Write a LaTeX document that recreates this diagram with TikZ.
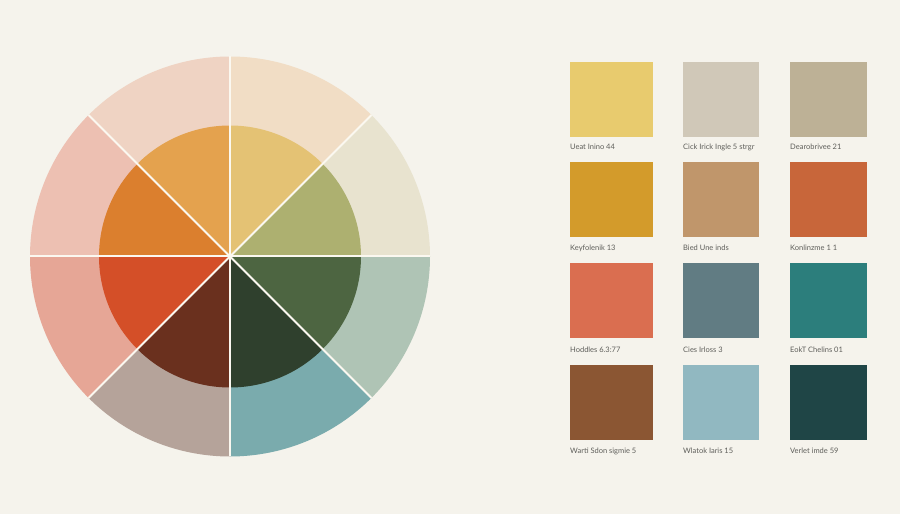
\documentclass[tikz,border=0pt]{standalone}
\usepackage{fontspec}
\setmainfont{Lato}
\definecolor{bg}{HTML}{F5F3EC}
\definecolor{sep}{HTML}{FBF8F0}
\definecolor{lbl}{HTML}{5E5E5A}
% outer ring
\definecolor{oA}{HTML}{F1DDC5}
\definecolor{oB}{HTML}{EFD3C3}
\definecolor{oC}{HTML}{EDC0B2}
\definecolor{oD}{HTML}{E6A696}
\definecolor{oE}{HTML}{B5A39A}
\definecolor{oF}{HTML}{7AABAD}
\definecolor{oG}{HTML}{AFC4B5}
\definecolor{oH}{HTML}{E8E3CF}
% inner disc
\definecolor{iA}{HTML}{E4C274}
\definecolor{iB}{HTML}{E4A24E}
\definecolor{iC}{HTML}{DB7F2E}
\definecolor{iD}{HTML}{D44F28}
\definecolor{iE}{HTML}{6A301E}
\definecolor{iF}{HTML}{2F402D}
\definecolor{iG}{HTML}{4D6541}
\definecolor{iH}{HTML}{ADB070}
% swatches
\definecolor{sAa}{HTML}{E8CB6E}
\definecolor{sAb}{HTML}{D0C8B8}
\definecolor{sAc}{HTML}{BDB196}
\definecolor{sBa}{HTML}{D39B2B}
\definecolor{sBb}{HTML}{C0966B}
\definecolor{sBc}{HTML}{C8663A}
\definecolor{sCa}{HTML}{DA6E50}
\definecolor{sCb}{HTML}{617C83}
\definecolor{sCc}{HTML}{2C7E7C}
\definecolor{sDa}{HTML}{8B5633}
\definecolor{sDb}{HTML}{91B8C1}
\definecolor{sDc}{HTML}{1F4546}
\begin{document}
\begin{tikzpicture}[x=1pt,y=1pt,
  swatch/.style={draw=none,inner sep=0pt,anchor=north west,minimum height=75pt},
  swlabel/.style={anchor=west,inner sep=0pt,font=\fontsize{7.5}{9}\selectfont,text=lbl},
  sepline/.style={draw=sep,line width=2pt}]
\fill[bg] (0,0) rectangle (900,514);
\useasboundingbox (0,0) rectangle (900,514);
% colour wheel
\begin{scope}[shift={(230,257.5)}]
  \foreach \a/\c in {45/oA,90/oB,135/oC,180/oD,225/oE,270/oF,315/oG,0/oH}{
    \fill[\c] (0,0) -- (\a:200) arc[start angle=\a, end angle=\a+45, radius=200] -- cycle;
  }
  \foreach \a/\c in {45/iA,90/iB,135/iC,180/iD,225/iE,270/iF,315/iG,0/iH}{
    \fill[\c] (0,0) -- (\a:131) arc[start angle=\a, end angle=\a+45, radius=131] -- cycle;
  }
  \coordinate (wc) at (0,0);
  \foreach \a in {0,45,90,135}{
    \draw[sepline] (\a:200) -- (\a+180:200);
  }
\end{scope}
% swatches
\foreach \r/\y in {A/62,B/162,C/263,D/365}{
  \node[swatch,fill=s\r a,minimum width=83pt] (s\r a) at (570,514-\y) {};
  \node[swatch,fill=s\r b,minimum width=76pt] (s\r b) at (683,514-\y) {};
  \node[swatch,fill=s\r c,minimum width=77pt] (s\r c) at (790,514-\y) {};
}
\node[swlabel] (lAa) at (570,514-147) {Ueat Inino 44};
\node[swlabel] (lAb) at (683,514-147) {Cick Irick Ingle 5 strgr};
\node[swlabel] (lAc) at (790,514-147) {Dearobrivee 21};
\node[swlabel] (lBa) at (570,514-248) {Keyfolenik 13};
\node[swlabel] (lBb) at (683,514-248) {Bied Une inds};
\node[swlabel] (lBc) at (790,514-248) {Konlinzme 1 1};
\node[swlabel] (lCa) at (570,514-350) {Hoddles 6.3:77};
\node[swlabel] (lCb) at (683,514-350) {Cies Irloss 3};
\node[swlabel] (lCc) at (790,514-350) {EokT Chelins 01};
\node[swlabel] (lDa) at (570,514-451) {Warti Sdon sigmie 5};
\node[swlabel] (lDb) at (683,514-451) {Wlatok Iaris 15};
\node[swlabel] (lDc) at (790,514-451) {Verlet imde 59};
\end{tikzpicture}
\end{document}
